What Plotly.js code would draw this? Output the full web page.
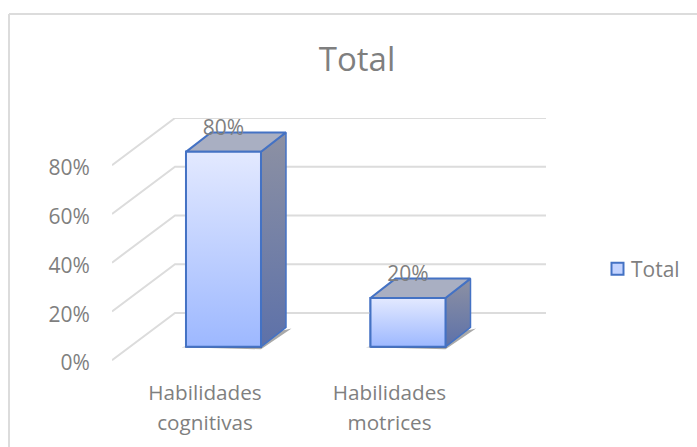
<!DOCTYPE html>
<html>
<head>
<meta charset="utf-8">
<script src="https://cdn.plot.ly/plotly-3.0.1.min.js"></script>
<style>html,body{margin:0;padding:0;background:#fff}#c{width:697px;height:447px}</style>
</head>
<body>
<div id="c"></div>
<script>
// Data
const categories = ['Habilidades cognitivas', 'Habilidades motrices'];
const values = [80, 20];
const seriesName = 'Total';
const axisTicks = [0, 20, 40, 60, 80];

// 3D projection helpers (axis units)
const barW = 0.4065, depthX = 0.1355, depthY = 8.0;
const frontOff = -5.46, backOff = 13.9, wallDX = 0.3415, wallX0 = -0.6043, xMax = 1.748, tickShift = -0.1;
const yMin = -7.46, yMax = 93.9;
const grey = '#7f7f7f', blue = '#4472C4', gridC = '#dcdcdc';
const font = 'Open Sans, sans-serif';

const traces = [];
// wall + floor gridlines
axisTicks.forEach(v => {
  traces.push({type:'scatter', mode:'lines', x:[wallX0, wallX0 + wallDX, xMax], y:[v + frontOff, v + backOff, v + backOff],
    line:{color:gridC, width:2}, showlegend:false, hoverinfo:'skip'});
});
// shadow + legend-carrying bars
categories.forEach((c, i) => {
  const l = i - barW/2, r = i + barW/2;
  traces.push({type:'scatter', mode:'lines', x:[l - 0.025, r, r + depthX + 0.03, r + depthX], y:[-0.2, -1, depthY - 0.5, depthY - 1],
    fill:'toself', fillcolor:'rgba(50,50,50,0.42)', line:{width:0, color:'rgba(0,0,0,0)'}, showlegend:false, hoverinfo:'skip'});
});
traces.push({type:'bar', x:categories.map((c,i)=>i), y:values, width:barW, name:seriesName,
  marker:{color:'#c3d3ff', line:{color:blue, width:2}}, showlegend:true, text:categories, hoverinfo:'text+y'});
// 3D faces
values.forEach((v, i) => {
  const l = i - barW/2, r = i + barW/2;
  traces.push({type:'scatter', mode:'lines', x:[r, r + depthX, r + depthX, r, r], y:[0, depthY, v + depthY, v, 0], fill:'toself',
    fillgradient:{type:'vertical', colorscale:[[0,'#5d71a9'],[1,'#8d91a3']]},
    line:{color:blue, width:1.5}, showlegend:false, hoverinfo:'skip'});
  traces.push({type:'scatter', mode:'lines', x:[l, l + depthX, r + depthX, r, l], y:[v, v + depthY, v + depthY, v, v], fill:'toself',
    fillcolor:'#a9afc2', line:{color:blue, width:2}, showlegend:false, hoverinfo:'skip'});
  traces.push({type:'scatter', mode:'lines', x:[l, r, r, l, l], y:[0, 0, v, v, 0], fill:'toself',
    fillgradient:{type:'vertical', colorscale:[[0,'#9db8ff'],[1,'#e3e9ff']]},
    line:{color:blue, width:2}, showlegend:false, hoverinfo:'skip'});
});
// data labels
traces.push({type:'scatter', mode:'text', x:values.map((v,i)=>i), y:values.map(v=>v + 9.2), text:values.map(v=>v + '%'),
  textposition:'middle center', textfont:{family:font, size:21, color:grey}, showlegend:false, hoverinfo:'skip'});
// carrier for the second tick-label row
traces.push({type:'scatter', mode:'none', xaxis:'x2', x:categories.map((c,i)=>i), y:values, showlegend:false, hoverinfo:'skip'});

const catTicks = categories.map((c,i)=>i + tickShift);
const transparent = 'rgba(0,0,0,0)';
const xBase = {range:[wallX0, xMax], showgrid:false, zeroline:false, showline:false, tickmode:'array', tickvals:catTicks,
  ticks:'outside', tickcolor:transparent, tickfont:{family:font, size:20.7, color:grey}, automargin:false};

const plotBottom = 364.87, plotH = 246.87;
const layout = {
  width:697, height:447, paper_bgcolor:'#fff', plot_bgcolor:'rgba(0,0,0,0)',
  margin:{l:112, r:151, t:118, b:447 - plotBottom, autoexpand:false},
  title:{text:'Total', x:357/697, xanchor:'center', y:1-59.5/447, yanchor:'middle', yref:'container', font:{family:font, size:33, color:grey}},
  xaxis:Object.assign({}, xBase, {ticktext:categories.map(c=>c.split(' ')[0]), ticklen:9}),
  xaxis2:Object.assign({}, xBase, {overlaying:'x', anchor:'y', side:'bottom', ticktext:categories.map(c=>c.split(' ')[1]), ticklen:39}),
  yaxis:{range:[yMin, yMax], showgrid:false, zeroline:false, showline:false, tickmode:'array',
    tickvals:axisTicks.map(v=>v + frontOff - 1.2), ticktext:axisTicks.map(v=>v + '%'),
    ticks:'outside', ticklen:17, tickcolor:transparent, tickfont:{family:font, size:21, color:grey}, automargin:false},
  legend:{xref:'container', yref:'container', x:597.5/697, y:1-269/447, xanchor:'left', yanchor:'middle', bgcolor:transparent,
    font:{family:font, size:21, color:grey}, itemwidth:30},
  showlegend:true,
  shapes:[
    {type:'line', xref:'paper', yref:'paper', x0:(9-112)/434, x1:(697-112)/434, y0:(plotBottom-14)/plotH, y1:(plotBottom-14)/plotH, line:{color:gridC, width:2}},
    {type:'line', xref:'paper', yref:'paper', x0:(9-112)/434, x1:(9-112)/434, y0:(plotBottom-14)/plotH, y1:(plotBottom-447)/plotH, line:{color:gridC, width:2}}
  ]
};
Plotly.newPlot('c', traces, layout, {displayModeBar:false, staticPlot:true}).then(() => {
  // tighten the gap between legend swatch and label
  const t = document.querySelector('.legendtext');
  if (t) t.setAttribute('x', parseFloat(t.getAttribute('x')) - 6.5);
});
</script>
</body>
</html>
